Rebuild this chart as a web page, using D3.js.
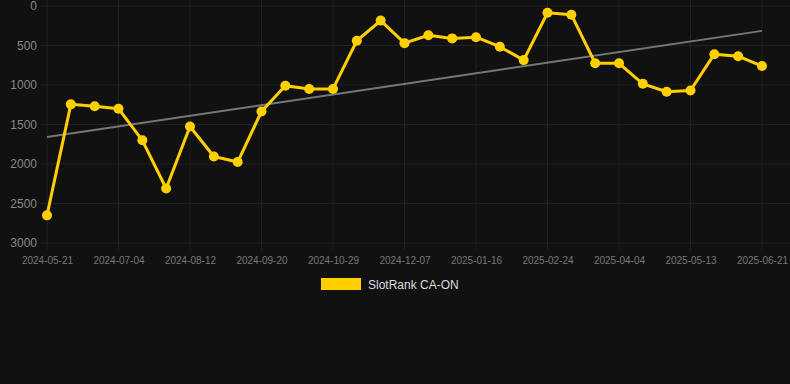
<!DOCTYPE html>
<html><head><meta charset="utf-8">
<script src="https://cdn.jsdelivr.net/npm/d3@7"></script>
<style>
html,body{margin:0;padding:0;background:#111111;}
svg{display:block;font-family:"Liberation Sans",Arial,sans-serif;}
</style></head>
<body>
<svg id="chart" width="790" height="384"></svg>
<script>
const categories = ["2024-05-21","2024-06-04","2024-06-19","2024-07-04","2024-07-17","2024-07-30","2024-08-12","2024-08-25","2024-09-07","2024-09-20","2024-10-03","2024-10-16","2024-10-29","2024-11-11","2024-11-24","2024-12-07","2024-12-20","2025-01-03","2025-01-16","2025-01-29","2025-02-11","2025-02-24","2025-03-09","2025-03-22","2025-04-04","2025-04-17","2025-04-30","2025-05-13","2025-05-26","2025-06-08","2025-06-21"];
const rankValues = [2650,1245,1270,1300,1700,2310,1525,1905,1975,1335,1010,1050,1050,440,185,470,370,410,395,515,685,85,110,725,725,985,1085,1070,610,635,760];
const yTicks = [0,500,1000,1500,2000,2500,3000];
const seriesName = "SlotRank CA-ON";

const svg = d3.select("#chart");
const x = d3.scalePoint().domain(categories).range([47, 762]);
const y = d3.scaleLinear().domain([0, 3000]).range([6, 243]);

// grid
const g = svg.append("g");
g.selectAll(".hg").data(yTicks).enter().append("line")
  .attr("x1", 40).attr("x2", 790)
  .attr("y1", d => y(d)).attr("y2", d => y(d))
  .attr("stroke", "#212121").attr("stroke-width", 1);
const xTickCats = categories.filter((d, i) => i % 3 === 0);
g.selectAll(".vg").data(xTickCats).enter().append("line")
  .attr("x1", d => x(d)).attr("x2", d => x(d))
  .attr("y1", 0).attr("y2", 250)
  .attr("stroke", "#212121").attr("stroke-width", 1);

// y axis labels
const yAxis = d3.axisLeft(y).tickValues(yTicks).tickSize(0).tickPadding(0).tickFormat(d3.format("d"));
const ya = svg.append("g").attr("transform", "translate(37,0)").call(yAxis);
ya.select(".domain").remove();
ya.selectAll("text").attr("fill", "#888").attr("font-size", 12).attr("font-family", "Liberation Sans, Arial, sans-serif");

// x axis labels
const xAxis = d3.axisBottom(x).tickValues(xTickCats).tickSize(0).tickPadding(0);
const xa = svg.append("g").attr("transform", "translate(0,257)").call(xAxis);
xa.select(".domain").remove();
xa.selectAll("text").attr("fill", "#777").attr("font-size", 10).attr("font-family", "Liberation Sans, Arial, sans-serif");

// trend line (least squares)
const n = rankValues.length;
const idx = d3.range(n);
const mx = d3.mean(idx), my = d3.mean(rankValues);
const slope = d3.sum(idx, i => (i - mx) * (rankValues[i] - my)) / d3.sum(idx, i => (i - mx) ** 2);
const icpt = my - slope * mx;
svg.append("line")
  .attr("x1", x(categories[0])).attr("y1", y(icpt))
  .attr("x2", x(categories[n - 1])).attr("y2", y(icpt + slope * (n - 1)))
  .attr("stroke", "#777").attr("stroke-width", 2);

// series line
const line = d3.line().x((d, i) => x(categories[i])).y(d => y(d));
svg.append("path").datum(rankValues).attr("d", line)
  .attr("fill", "none").attr("stroke", "#FFD000").attr("stroke-width", 3).attr("stroke-linejoin", "round");
svg.selectAll(".pt").data(rankValues).enter().append("circle")
  .attr("cx", (d, i) => x(categories[i])).attr("cy", d => y(d)).attr("r", 5)
  .attr("fill", "#FFD000");

// legend
svg.append("rect").attr("x", 321).attr("y", 278).attr("width", 40).attr("height", 12).attr("fill", "#FFD000");
svg.append("text").attr("x", 368).attr("y", 289).attr("fill", "#ddd").attr("font-size", 12).text(seriesName);
</script>
</body></html>
